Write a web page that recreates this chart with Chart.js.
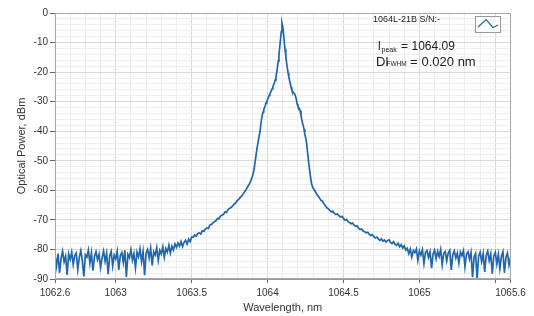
<!DOCTYPE html>
<html><head><meta charset="utf-8">
<script src="https://cdn.jsdelivr.net/npm/chart.js@4.4.1/dist/chart.umd.min.js"></script>
<style>html,body{margin:0;padding:0;background:#fff}</style>
</head><body>
<canvas id="c" width="534" height="316"></canvas>
<script>
// ---- data ----
const seriesLabel = '1064L-21B S/N:-';
const peakText = '1064.09';
const fwhmText = '0.020 nm';

const leftNoiseWl = [1062.60,1062.61,1062.62,1062.63,1062.64,1062.65,1062.66,1062.67,1062.68,1062.69,
 1062.70,1062.71,1062.72,1062.73,1062.74,1062.75,1062.76,1062.77,1062.78,1062.79,
 1062.80,1062.81,1062.82,1062.83,1062.84,1062.85,1062.86,1062.87,1062.88,1062.89,
 1062.90,1062.91,1062.92,1062.93,1062.94,1062.95,1062.96,1062.97,1062.98,1062.99,
 1063.00,1063.01,1063.02,1063.03,1063.04,1063.05,1063.06,1063.07,1063.08,1063.09,
 1063.10,1063.11,1063.12,1063.13,1063.14,1063.15,1063.16,1063.17,1063.18,1063.19,
 1063.20,1063.21,1063.22,1063.23,1063.24,1063.25,1063.26,1063.27,1063.28,1063.29,
 1063.30,1063.31,1063.32,1063.33,1063.34,1063.35,1063.36,1063.37,1063.38,1063.39,
 1063.40,1063.41,1063.42,1063.43,1063.44,1063.45,1063.46,1063.47,1063.48,1063.49,1063.50];
const leftNoisePw = [-82.1,-85.7,-81.4,-87.9,-83.0,-80.6,-84.2,-82.3,-88.6,-81.5,
 -83.4,-80.9,-85.1,-82.0,-81.2,-86.8,-82.7,-80.4,-83.9,-89.1,
 -81.8,-82.6,-80.2,-84.7,-81.1,-87.2,-82.4,-80.8,-83.5,-81.6,
 -86.1,-82.9,-80.5,-84.0,-81.3,-88.4,-82.2,-80.7,-85.6,-81.9,
 -83.2,-80.6,-86.9,-82.1,-81.0,-84.4,-80.3,-89.3,-81.7,-82.8,
 -80.1,-83.6,-81.4,-86.2,-80.9,-82.5,-79.8,-84.1,-80.7,-88.7,
 -81.2,-80.0,-82.9,-79.6,-85.4,-80.8,-81.9,-79.4,-83.7,-80.3,
 -81.5,-79.1,-82.6,-79.7,-80.9,-78.6,-81.3,-78.9,-80.2,-78.1,
 -79.3,-77.8,-78.9,-77.3,-79.0,-77.6,-76.9,-78.2,-76.5,-77.4,-75.8];

const leftWingWl = [1063.51,1063.52,1063.53,1063.54,1063.55,1063.56,1063.57,1063.58,1063.59,
 1063.60,1063.61,1063.62,1063.63,1063.64,1063.65,1063.66,1063.67,1063.68,1063.69,
 1063.70,1063.71,1063.72,1063.73,1063.74,1063.75,1063.76,1063.77,1063.78,1063.79,
 1063.80,1063.81,1063.82,1063.83,1063.84,1063.85,1063.86,1063.87,1063.88,1063.89,
 1063.90,1063.91,1063.92,1063.93,1063.94,1063.95];
const leftWingPw = [-75.9,-75.1,-75.5,-74.6,-74.4,-74.8,-73.7,-73.9,-73.1,
 -72.7,-72.9,-71.8,-71.6,-71.0,-70.6,-70.3,-69.5,-69.6,-68.7,
 -68.4,-68.1,-67.3,-67.4,-66.5,-66.1,-65.8,-65.3,-64.6,-64.3,
 -63.5,-63.1,-62.4,-61.9,-61.2,-60.4,-59.6,-58.7,-57.8,-56.7,
 -55.3,-53.2,-49.6,-46.0,-42.9,-40.1];

const peakWl = [1063.955,1063.960,1063.965,1063.970,1063.975,1063.980,1063.985,1063.990,1063.995,
 1064.000,1064.005,1064.010,1064.015,1064.020,1064.025,1064.030,1064.035,1064.040,1064.045,
 1064.050,1064.055,1064.060,1064.065,1064.070,1064.075,1064.080,1064.085,1064.090,1064.095,
 1064.100,1064.105,1064.110,1064.115,1064.120,1064.125,1064.130,1064.135,1064.140,1064.145,
 1064.150,1064.155,1064.160,1064.165,1064.170,1064.175,1064.180,1064.185,1064.190,1064.195,
 1064.200,1064.205,1064.210,1064.215,1064.220,1064.225,1064.230,1064.235,1064.240,1064.245,
 1064.250,1064.255];
const peakPw = [-38.0,-36.0,-34.6,-33.5,-32.6,-32.0,-31.3,-30.4,-29.9,
 -29.3,-28.6,-27.9,-27.5,-26.8,-26.3,-25.6,-25.0,-24.3,-23.6,
 -22.7,-21.6,-20.3,-18.4,-16.3,-14.0,-11.6,-9.0,-6.4,-3.4,
 -4.6,-7.0,-9.8,-12.3,-14.6,-16.7,-18.6,-20.2,-21.6,-22.9,
 -24.0,-25.1,-26.1,-26.6,-26.9,-27.2,-27.6,-28.3,-29.4,-30.8,
 -31.6,-32.0,-32.4,-33.1,-34.6,-36.0,-37.2,-38.1,-39.3,-40.8,
 -42.0,-43.2];

const rightWingWl = [1064.26,1064.27,1064.28,1064.29,
 1064.30,1064.31,1064.32,1064.33,1064.34,1064.35,1064.36,1064.37,1064.38,1064.39,
 1064.40,1064.41,1064.42,1064.43,1064.44,1064.45,1064.46,1064.47,1064.48,1064.49,
 1064.50,1064.51,1064.52,1064.53,1064.54,1064.55,1064.56,1064.57,1064.58,1064.59,
 1064.60,1064.61,1064.62,1064.63,1064.64,1064.65,1064.66,1064.67,1064.68,1064.69,
 1064.70,1064.71,1064.72,1064.73,1064.74,1064.75,1064.76,1064.77,1064.78,1064.79,
 1064.80,1064.81,1064.82,1064.83,1064.84,1064.85,1064.86,1064.87,1064.88,1064.89,1064.90];
const rightWingPw = [-45.6,-50.3,-54.4,-57.9,
 -59.3,-60.0,-60.9,-61.8,-62.4,-63.3,-63.6,-64.5,-65.1,-65.9,
 -66.2,-66.8,-67.3,-67.1,-67.8,-68.2,-68.0,-68.6,-69.0,-68.8,
 -69.5,-70.1,-69.8,-70.6,-70.9,-71.3,-71.1,-71.8,-72.2,-72.0,
 -72.9,-73.3,-73.1,-73.8,-74.0,-74.4,-74.2,-74.9,-75.3,-75.0,
 -75.7,-76.1,-75.8,-76.5,-76.9,-76.4,-77.2,-76.8,-77.5,-77.0,
 -76.7,-77.6,-78.0,-77.4,-78.3,-78.6,-77.9,-79.1,-78.4,-79.5,-78.8];

const rightNoiseWl = [1064.91,1064.92,1064.93,1064.94,1064.95,1064.96,1064.97,1064.98,1064.99,
 1065.00,1065.01,1065.02,1065.03,1065.04,1065.05,1065.06,1065.07,1065.08,1065.09,
 1065.10,1065.11,1065.12,1065.13,1065.14,1065.15,1065.16,1065.17,1065.18,1065.19,
 1065.20,1065.21,1065.22,1065.23,1065.24,1065.25,1065.26,1065.27,1065.28,1065.29,
 1065.30,1065.31,1065.32,1065.33,1065.34,1065.35,1065.36,1065.37,1065.38,1065.39,
 1065.40,1065.41,1065.42,1065.43,1065.44,1065.45,1065.46,1065.47,1065.48,1065.49,
 1065.50,1065.51,1065.52,1065.53,1065.54,1065.55,1065.56,1065.57,1065.58,1065.59,1065.60];
const rightNoisePw = [-80.2,-79.6,-81.4,-79.9,-82.6,-80.3,-81.1,-79.8,-83.7,
 -80.5,-81.9,-80.1,-84.8,-81.0,-80.4,-82.7,-80.8,-86.3,-81.5,
 -80.2,-83.1,-80.6,-82.4,-80.0,-85.2,-81.3,-80.7,-83.9,-81.1,
 -80.3,-86.9,-81.8,-80.5,-82.9,-81.2,-84.6,-80.9,-82.1,-80.4,
 -85.8,-81.6,-80.8,-83.3,-81.0,-89.4,-82.5,-81.3,-90.0,-82.2,
 -80.9,-84.1,-81.4,-87.6,-82.0,-80.6,-83.8,-81.5,-88.2,-82.3,
 -81.0,-84.9,-81.7,-86.5,-82.4,-80.8,-87.9,-82.6,-81.2,-85.3,-82.7];

// ---- build the library table ----
const sections = [[leftNoiseWl,leftNoisePw],[leftWingWl,leftWingPw],[peakWl,peakPw],[rightWingWl,rightWingPw],[rightNoiseWl,rightNoisePw]];
const points = [];
sections.forEach(([wl,pw]) => wl.forEach((w,i) => points.push({x:w, y:pw[i]})));

const FONT = '"Liberation Sans", Arial, sans-serif';
const LINE = '#1f66ad';
const MAJOR = '#d9d9d9', MINOR = '#eeeeee';

function xKey(v){ return Math.round(v*10); }
function xIsMajor(v){ const r = xKey(v); return r % 5 === 0 || r === 10626 || r === 10656; }

const framePlugin = {
  id:'frame',
  afterDraw(chart){
    const {ctx, chartArea:a} = chart;
    ctx.save();
    ctx.strokeStyle = '#a8a8a8'; ctx.lineWidth = 1;
    ctx.strokeRect(Math.round(a.left)+0.5, Math.round(a.top)+0.5, Math.round(a.right-a.left)-1, Math.round(a.bottom-a.top)-1);
    // legend-like label
    ctx.fillStyle = '#222'; ctx.textBaseline = 'alphabetic';
    ctx.font = '9px ' + FONT;
    ctx.fillText(seriesLabel, 373, 22);
    ctx.fillStyle = '#fff'; ctx.fillRect(475.5,16.5,25,16);
    ctx.strokeStyle = '#9a9a9a'; ctx.strokeRect(475.5,16.5,25,16);
    ctx.strokeStyle = LINE; ctx.lineWidth = 1.2;
    ctx.beginPath(); ctx.moveTo(478,27); ctx.lineTo(486,19.5); ctx.lineTo(493,27.5); ctx.lineTo(498,25); ctx.stroke();
    // peak annotation
    ctx.fillStyle = '#222';
    ctx.font = '12px ' + FONT; ctx.fillText('l', 378, 50);
    ctx.font = '7px ' + FONT; ctx.fillText('peak', 381.5, 52);
    ctx.font = '12px ' + FONT; ctx.fillText('=', 401, 50); ctx.fillText(peakText, 411.5, 50);
    ctx.font = '13px ' + FONT; ctx.fillText('Dl', 376, 66);
    ctx.font = '6.5px ' + FONT; ctx.fillText('FWHM', 386.5, 66);
    ctx.font = '13px ' + FONT; ctx.fillText('=', 410, 66); ctx.fillText(fwhmText, 421.5, 66);
    ctx.restore();
  }
};

new Chart(document.getElementById('c'), {
  type:'line',
  data:{datasets:[{label:seriesLabel, data:points, borderColor:LINE, borderWidth:1.7, pointRadius:0, tension:0, fill:false}]},
  options:{
    responsive:false, animation:false, devicePixelRatio:1,
    layout:{padding:{left:0, right:23.5, top:13, bottom:0}},
    plugins:{legend:{display:false}, tooltip:{enabled:false}},
    scales:{
      x:{
        type:'linear', min:1062.6, max:1065.6,
        afterFit(s){ s.height = 37; },
        ticks:{stepSize:0.1, autoSkip:false, maxRotation:0, minRotation:0, padding:4, color:'#333',
          font:{family:FONT, size:10},
          callback(v){ const r = xKey(v); if (r===10626) return '1062.6'; if (r===10656) return '1065.6';
            if (r % 5 === 0 && r !== 10655) return String(r/10); return ''; }},
        grid:{color(c){ return c.tick && xIsMajor(c.tick.value) ? MAJOR : MINOR; },
          tickColor(c){ return c.tick && xIsMajor(c.tick.value) ? '#666' : 'rgba(0,0,0,0)'; },
          tickLength:4, lineWidth:1},
        border:{color:'#999'},
        title:{display:true, text:'Wavelength, nm', color:'#333', font:{family:FONT, size:11}, padding:{top:0, bottom:1}}
      },
      y:{
        min:-90, max:0,
        afterFit(s){ s.width = 55; },
        ticks:{stepSize:2, autoSkip:false, padding:2, color:'#333', font:{family:FONT, size:10},
          callback(v){ const r = Math.round(v); return r % 10 === 0 ? String(r) : ''; }},
        grid:{color(c){ return c.tick && Math.round(c.tick.value) % 10 === 0 ? MAJOR : MINOR; },
          tickColor(c){ return c.tick && Math.round(c.tick.value) % 10 === 0 ? '#666' : 'rgba(0,0,0,0)'; },
          tickLength:5, lineWidth:1},
        border:{color:'#999'},
        title:{display:true, text:'Optical Power, dBm', color:'#333', font:{family:FONT, size:11}, padding:{top:15, bottom:0}}
      }
    }
  },
  plugins:[framePlugin]
});
</script>
</body></html>
